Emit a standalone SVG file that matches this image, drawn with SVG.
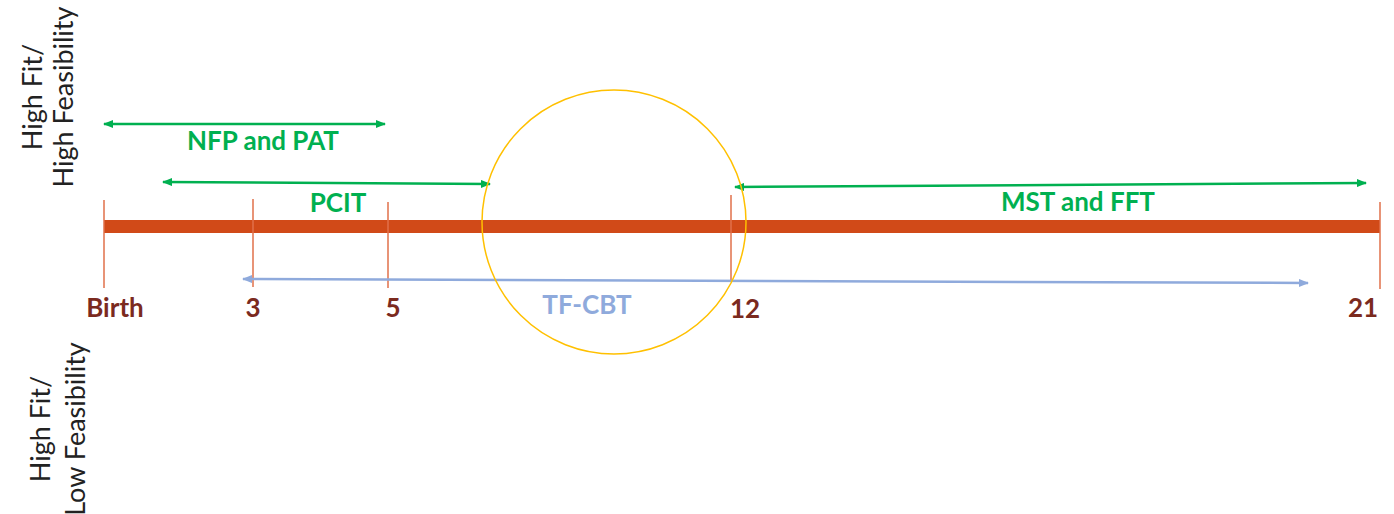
<svg xmlns="http://www.w3.org/2000/svg" width="1394" height="514" viewBox="0 0 1394 514">
  <style>
    .axis-label { font-family: Lato, "Liberation Sans", sans-serif; font-size: 27px; fill: #222; text-anchor: middle; }
    .age { font-family: Lato, "Liberation Sans", sans-serif; font-size: 26px; font-weight: bold; fill: #7B2A1E; text-anchor: middle; }
    .prog { font-family: Lato, "Liberation Sans", sans-serif; font-size: 26px; font-weight: bold; text-anchor: middle; }
    .green { fill: #00B050; }
    .blue { fill: #8FAADC; }
    .tick { stroke: #E0704A; stroke-width: 1.5; }
    .span-g { stroke: #00B050; stroke-width: 2.5; fill: none; marker-start: url(#gStart); marker-end: url(#gEnd); }
    .span-b { stroke: #8FAADC; stroke-width: 2.5; fill: none; marker-start: url(#bStart); marker-end: url(#bEnd); }
  </style>
  <defs>
    <marker id="gEnd" viewBox="0 0 10 8" refX="9" refY="4" markerWidth="10" markerHeight="8" markerUnits="userSpaceOnUse" orient="auto">
      <path d="M0,0 L10,4 L0,8 Z" fill="#00B050"/>
    </marker>
    <marker id="gStart" viewBox="0 0 10 8" refX="1" refY="4" markerWidth="10" markerHeight="8" markerUnits="userSpaceOnUse" orient="auto">
      <path d="M10,0 L0,4 L10,8 Z" fill="#00B050"/>
    </marker>
    <marker id="bEnd" viewBox="0 0 10 8" refX="9" refY="4" markerWidth="10" markerHeight="8" markerUnits="userSpaceOnUse" orient="auto">
      <path d="M0,0 L10,4 L0,8 Z" fill="#8FAADC"/>
    </marker>
    <marker id="bStart" viewBox="0 0 10 8" refX="1" refY="4" markerWidth="10" markerHeight="8" markerUnits="userSpaceOnUse" orient="auto">
      <path d="M10,0 L0,4 L10,8 Z" fill="#8FAADC"/>
    </marker>
  </defs>

  <!-- vertical axis captions -->
  <g id="caption-high">
    <text class="axis-label" transform="translate(42,97) rotate(-90)">High Fit/</text>
    <text class="axis-label" transform="translate(73,97) rotate(-90)">High Feasibility</text>
  </g>
  <g id="caption-low">
    <text class="axis-label" transform="translate(50,429) rotate(-90)">High Fit/</text>
    <text class="axis-label" transform="translate(85,429) rotate(-90)">Low Feasibility</text>
  </g>

  <!-- age timeline -->
  <g id="timeline">
    <rect x="104" y="220" width="1276" height="13" fill="#D14A18"/>
    <line class="tick" x1="104" y1="200" x2="104" y2="288"/>
    <line class="tick" x1="253" y1="199" x2="253" y2="287"/>
    <line class="tick" x1="388" y1="202" x2="388" y2="288"/>
    <line class="tick" x1="731" y1="195" x2="731" y2="281"/>
    <line class="tick" x1="1380" y1="202" x2="1380" y2="289"/>
  </g>

  <g id="age-labels">
    <text class="age" x="115" y="317">Birth</text>
    <text class="age" x="253" y="317">3</text>
    <text class="age" x="393" y="317">5</text>
    <text class="age" x="745" y="318">12</text>
    <text class="age" x="1363" y="317">21</text>
  </g>

  <!-- program age ranges -->
  <g id="connectors">
    <path class="span-g" d="M104,124 L385,124"/>
    <path class="span-g" d="M163,182 L490,184"/>
    <path class="span-g" d="M735,187 L1366,183"/>
    <path class="span-b" d="M243,279 L1308,283"/>
  </g>

  <g id="program-labels">
    <text class="prog green" x="263" y="150">NFP and PAT</text>
    <text class="prog green" x="338" y="212">PCIT</text>
    <text class="prog green" x="1078" y="211">MST and FFT</text>
    <text class="prog blue" x="587" y="314">TF-CBT</text>
  </g>

  <!-- highlighted gap between age 5 and 12 -->
  <g id="gap-circle">
    <circle cx="614" cy="222" r="132" fill="none" stroke="#FFC000" stroke-width="1.5"/>
  </g>
</svg>
